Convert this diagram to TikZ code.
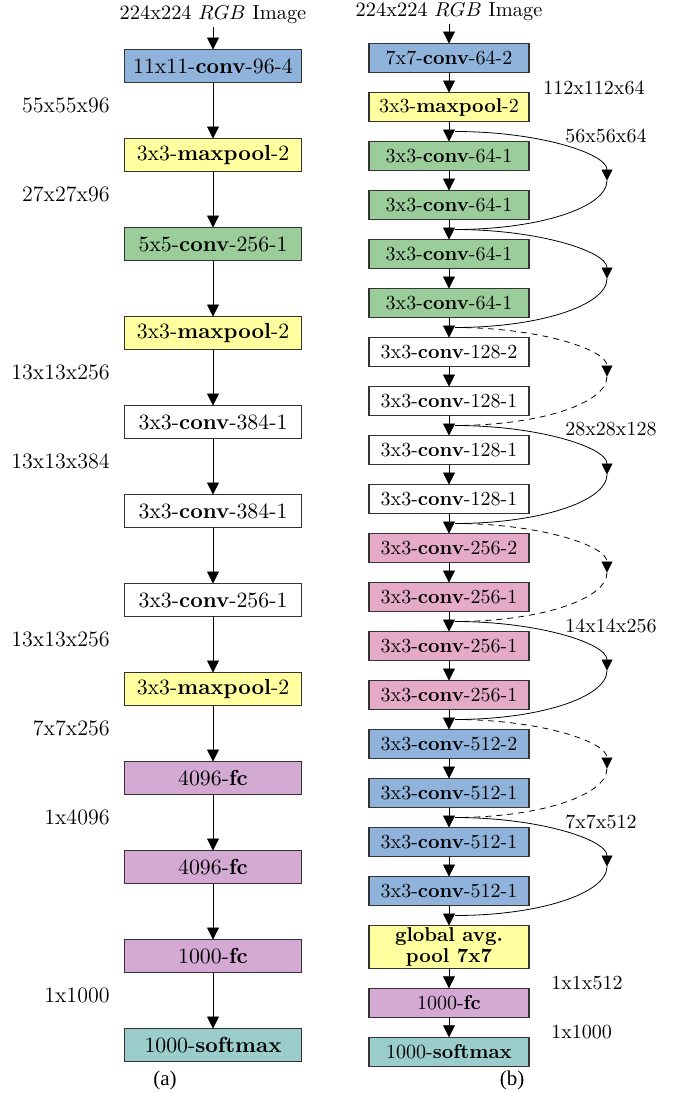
\documentclass[tikz,border=0pt]{standalone}
\usepackage{fontspec}
\newfontfamily\capfont{Liberation Serif}
\usetikzlibrary{positioning,chains,calc,arrows.meta}

\definecolor{convblue}{RGB}{144,179,219}
\definecolor{poolyellow}{RGB}{255,255,160}
\definecolor{convgreen}{RGB}{155,205,155}
\definecolor{convpink}{RGB}{228,170,200}
\definecolor{fcpurple}{RGB}{212,170,212}
\definecolor{smaxteal}{RGB}{155,205,205}

\begin{document}
\begin{tikzpicture}[>={Triangle[length=6pt,width=6pt]},
        box/.style={draw=black!80,semithick,on chain,outer sep=0pt,
            inner sep=1pt,align=center},
        boxa/.style={box,minimum width=88.5pt,minimum height=16.5pt,
            font=\fontsize{10.9}{12}\selectfont},
        boxb/.style={box,minimum width=80pt,minimum height=14.5pt,
            font=\fontsize{10}{10.5}\selectfont},
        every join/.style={thin,->},
        inp/.style={inner sep=1pt,font=\fontsize{10.2}{12}\selectfont},
        dima/.style={anchor=east,inner sep=0pt,font=\fontsize{11}{13}\selectfont},
        dimb/.style={anchor=west,inner sep=0pt,font=\fontsize{10}{12}\selectfont},
        skip/.style={thin,-{Triangle[length=5.5pt,width=5.5pt]}},
        skipdash/.style={dash pattern=on 3pt off 2.5pt},
        capt/.style={font=\capfont\fontsize{10.5}{12}\selectfont}
    ]
\useasboundingbox (0,0) rectangle (339pt,-546.5pt);

% (a)
\path[start chain=A going below,node distance=28pt] (106.5pt,-33pt)
  node[boxa,fill=convblue] (a1) {11x11-\textbf{conv}-96-4}
  node[boxa,fill=poolyellow,join] (a2) {3x3-\textbf{maxpool}-2}
  node[boxa,fill=convgreen,join] (a3) {5x5-\textbf{conv}-256-1}
  node[boxa,fill=poolyellow,join] (a4) {3x3-\textbf{maxpool}-2}
  node[boxa,fill=white,join] (a5) {3x3-\textbf{conv}-384-1}
  node[boxa,fill=white,join] (a6) {3x3-\textbf{conv}-384-1}
  node[boxa,fill=white,join] (a7) {3x3-\textbf{conv}-256-1}
  node[boxa,fill=poolyellow,join] (a8) {3x3-\textbf{maxpool}-2}
  node[boxa,fill=fcpurple,join] (a9) {4096-\textbf{fc}}
  node[boxa,fill=fcpurple,join] (a10) {4096-\textbf{fc}}
  node[boxa,fill=fcpurple,join] (a11) {1000-\textbf{fc}}
  node[boxa,fill=smaxteal,join] (a12) {1000-\textbf{softmax}};
\node[inp,above=11.5pt of a1] (ina) {224x224 $RGB$ Image};
\draw[thin,->] (ina) -- (a1);

\foreach \k/\d in {1/55x55x96,2/27x27x96,4/13x13x256,5/13x13x384,
    7/13x13x256,8/7x7x256,9/1x4096,11/1x1000} {
  \pgfmathtruncatemacro\n{\k+1}
  \node[dima] (da\k) at ($(a\k.south)!.5!(a\n.north)+(-51.5pt,2.5pt)$) {\d};
}
\node[capt] (capa) at (82.5pt,-540pt) {(a)};

% (b)
\path[start chain=B going below,node distance=10pt] (224.5pt,-29pt)
  node[boxb,fill=convblue] (b1) {7x7-\textbf{conv}-64-2}
  node[boxb,fill=poolyellow,join] (b2) {3x3-\textbf{maxpool}-2}
  node[boxb,fill=convgreen,join] (b3) {3x3-\textbf{conv}-64-1}
  node[boxb,fill=convgreen,join] (b4) {3x3-\textbf{conv}-64-1}
  node[boxb,fill=convgreen,join] (b5) {3x3-\textbf{conv}-64-1}
  node[boxb,fill=convgreen,join] (b6) {3x3-\textbf{conv}-64-1}
  node[boxb,fill=white,join] (b7) {3x3-\textbf{conv}-128-2}
  node[boxb,fill=white,join] (b8) {3x3-\textbf{conv}-128-1}
  node[boxb,fill=white,join] (b9) {3x3-\textbf{conv}-128-1}
  node[boxb,fill=white,join] (b10) {3x3-\textbf{conv}-128-1}
  node[boxb,fill=convpink,join] (b11) {3x3-\textbf{conv}-256-2}
  node[boxb,fill=convpink,join] (b12) {3x3-\textbf{conv}-256-1}
  node[boxb,fill=convpink,join] (b13) {3x3-\textbf{conv}-256-1}
  node[boxb,fill=convpink,join] (b14) {3x3-\textbf{conv}-256-1}
  node[boxb,fill=convblue,join] (b15) {3x3-\textbf{conv}-512-2}
  node[boxb,fill=convblue,join] (b16) {3x3-\textbf{conv}-512-1}
  node[boxb,fill=convblue,join] (b17) {3x3-\textbf{conv}-512-1}
  node[boxb,fill=convblue,join] (b18) {3x3-\textbf{conv}-512-1}
  node[boxb,fill=poolyellow,join] (b19) {\textbf{global avg.}\\\textbf{pool 7x7}}
  node[boxb,fill=fcpurple,join] (b20) {1000-\textbf{fc}}
  node[boxb,fill=smaxteal,join] (b21) {1000-\textbf{softmax}};
\node[inp,above=10pt of b1] (inb) {224x224 $RGB$ Image};
\draw[thin,->] (inb) -- (b1);

% shortcut connections
\foreach \i/\k in {1/2,2/4,3/6,4/8,5/10,6/12,7/14,8/16,9/18} {
  \pgfmathtruncatemacro\n{\k+1}
  \coordinate (j\i) at ($(b\k.south)!.5!(b\n.north)$);
}
\foreach \i/\s in {1/solid,2/solid,3/skipdash,4/solid,5/skipdash,6/solid,
    7/skipdash,8/solid} {
  \pgfmathtruncatemacro\n{\i+1}
  \coordinate (m\i) at ($(j\i)!.5!(j\n)+(79pt,0)$);
  \draw[skip,\s] ([xshift=3pt]j\i) .. controls +(42pt,0) and +(0,13.5pt) .. (m\i);
  \draw[thin,\s] (m\i) .. controls +(0,-13.5pt) and +(42pt,0) .. ([xshift=3pt]j\n);
}

\node[dimb] (db1) at ($(b1.south)!.5!(b2.north)+(47pt,-2.5pt)$) {112x112x64};
\node[dimb] (dj1) at ($(j1)+(58pt,-2pt)$) {56x56x64};
\node[dimb] (dj4) at ($(j4)+(58pt,-2pt)$) {28x28x128};
\node[dimb] (dj6) at ($(j6)+(58pt,-2pt)$) {14x14x256};
\node[dimb] (dj8) at ($(j8)+(58pt,-2pt)$) {7x7x512};
\node[dimb] (db19) at ($(b19.south)!.5!(b20.north)+(51pt,-2.5pt)$) {1x1x512};
\node[dimb] (db20) at ($(b20.south)!.5!(b21.north)+(51pt,-2.5pt)$) {1x1000};
\node[capt] (capb) at (256pt,-540pt) {(b)};
\end{tikzpicture}
\end{document}
